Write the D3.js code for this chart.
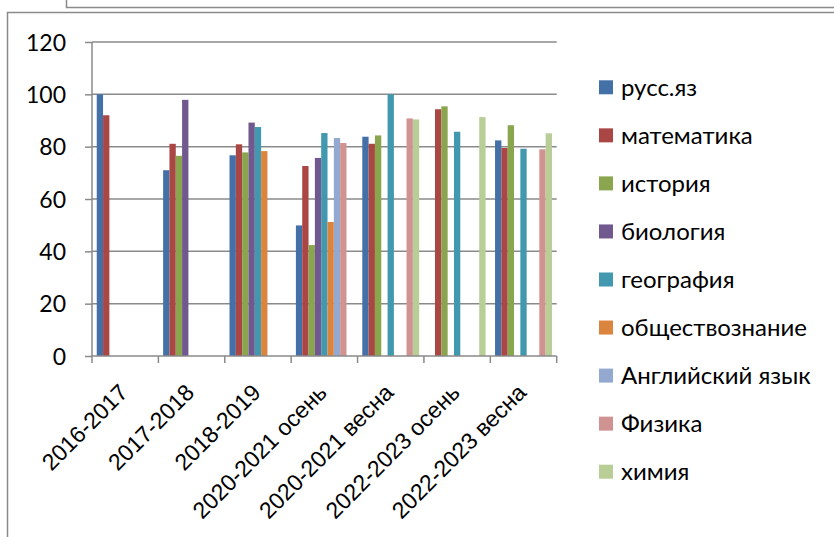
<!DOCTYPE html>
<html><head><meta charset="utf-8">
<script src="https://cdn.jsdelivr.net/npm/d3@7"></script>
<style>body{margin:0;background:#fff;} svg{display:block;font-family:Lato,"Open Sans",sans-serif;}</style>
</head><body>
<svg id="c" width="834" height="537"></svg>
<script>
const categories = ["2016-2017","2017-2018","2018-2019","2020-2021 осень","2020-2021 весна","2022-2023 осень","2022-2023 весна"];
const seriesNames = ["русс.яз","математика","история","биология","география","обществознание","Английский язык","Физика","химия"];
const seriesColors = ["#4470A8","#AA4643","#89A54E","#71588F","#4198AF","#DB843D","#93A9CF","#D19392","#B9CD96"];
const russ   = [100, 71, 76.7, 49.9, 83.8, null, 82.4];
const math   = [92, 81.1, 80.9, 72.6, 81.1, 94.3, 79.5];
const hist   = [null, 76.5, 77.8, 42.4, 84.3, 95.4, 88.2];
const bio    = [null, 97.9, 89.2, 75.7, null, null, null];
const geo    = [null, null, 87.5, 85.2, 100, 85.7, 79.2];
const social = [null, null, 78.3, 51.2, null, null, null];
const engl   = [null, null, null, 83.3, null, null, null];
const phys   = [null, null, null, 81.4, 90.8, null, 79.0];
const chem   = [null, null, null, null, 90.4, 91.3, 85.1];
const seriesValues = [russ, math, hist, bio, geo, social, engl, phys, chem];
const yTicks = [0,20,40,60,80,100,120];

const svg = d3.select("#c");
const gray = "#8a8a8a";
// outer frames
svg.append("path").attr("d","M66.5,0 V7.5 H834").attr("fill","none").attr("stroke",gray).attr("stroke-width",1.5);
svg.append("path").attr("d","M7.5,537 V12.5 H834").attr("fill","none").attr("stroke",gray).attr("stroke-width",1.5);

const x0 = d3.scaleBand().domain(categories).range([92, 556.7]).paddingInner(0).paddingOuter(0);
const bw = x0.bandwidth();
const x1 = d3.scaleBand().domain(seriesNames).range([bw*0.75/10.5, bw - bw*0.75/10.5]);
const y = d3.scaleLinear().domain([0,120]).range([356,42]);

// gridlines
svg.append("g").selectAll("line").data(yTicks.slice(1)).join("line")
  .attr("x1",92).attr("x2",556.7).attr("y1",d=>y(d)).attr("y2",d=>y(d))
  .attr("stroke",gray).attr("stroke-width",1.5);

// bars
const groups = svg.append("g").selectAll("g").data(seriesNames).join("g").attr("fill",(d,i)=>seriesColors[i]);
groups.each(function(name, si){
  d3.select(this).selectAll("rect").data(categories.map((c,ci)=>({c, v: seriesValues[si][ci]})).filter(d=>d.v!=null))
    .join("rect")
    .attr("x", d=>x0(d.c)+x1(name)).attr("width", x1.bandwidth())
    .attr("y", d=>y(d.v)).attr("height", d=>y(0)-y(d.v));
});

// y axis
const ya = svg.append("g").attr("transform","translate(92,0)")
  .call(d3.axisLeft(y).tickValues(yTicks).tickSize(7).tickPadding(19));
ya.select(".domain").attr("stroke",gray).attr("stroke-width",1.5).attr("d","M0,356V42");
ya.selectAll(".tick line").attr("stroke",gray).attr("stroke-width",1.5);
ya.selectAll("text").attr("font-size",23).attr("fill","#000").attr("font-family","Lato").attr("dy","0.35em");

// x axis
const xa = svg.append("g").attr("transform","translate(0,356)")
  .call(d3.axisBottom(x0).tickSize(0).tickFormat(""));
xa.select(".domain").attr("stroke",gray).attr("stroke-width",1.5).attr("d","M92,0H556.7");
const tickPos = d3.range(categories.length+1).map(i=>92 + i*bw);
xa.selectAll("line.tk").data(tickPos).join("line").attr("class","tk")
  .attr("x1",d=>d).attr("x2",d=>d).attr("y1",0).attr("y2",7).attr("stroke",gray).attr("stroke-width",1.5);
xa.selectAll("text.lbl").data(categories).join("text").attr("class","lbl")
  .attr("transform",d=>`translate(${x0(d)+bw/2+4},${38}) rotate(-45)`)
  .attr("text-anchor","end").attr("font-size",23).attr("fill","#000")
  .text(d=>d);

// legend
const leg = svg.append("g").selectAll("g").data(seriesNames).join("g")
  .attr("transform",(d,i)=>`translate(599,${87.3 + i*48.05})`);
leg.append("rect").attr("x",0).attr("y",-7).attr("width",14).attr("height",14).attr("fill",(d,i)=>seriesColors[i]);
leg.append("text").attr("x",22).attr("y",0).attr("dy","0.35em").attr("font-size",24).attr("fill","#000").text(d=>d);
</script>
</body></html>
